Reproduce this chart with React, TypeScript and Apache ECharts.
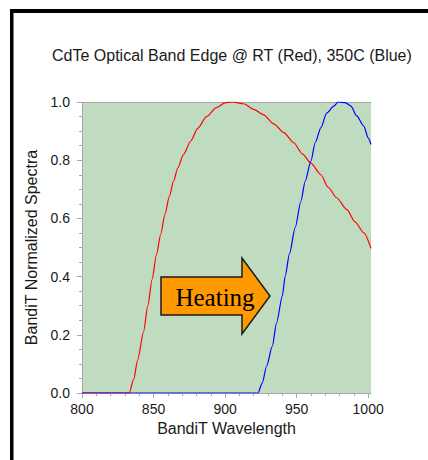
import React, { useEffect, useRef } from "react";
import * as echarts from "echarts";

const titleText = "CdTe Optical Band Edge @ RT (Red), 350C (Blue)";
const xName = "BandiT Wavelength";
const yName = "BandiT Normalized Spectra";

const xMajorTicks = [800, 850, 900, 950, 1000];
const xMinorTicks = [800, 810, 820, 830, 840, 850, 860, 870, 880, 890, 900, 910, 920, 930, 940, 950, 960, 970, 980, 990, 1000];

const redWavelength = [800, 833, 836, 839, 843, 846, 849, 852, 855, 858, 861, 864, 867, 871, 876, 881, 887, 894, 900, 905, 913, 920, 927, 934, 941, 948, 954, 960, 967, 972, 978, 985, 991, 997, 1002];
const redValues = [0, 0, 0.046, 0.115, 0.21, 0.3, 0.39, 0.475, 0.545, 0.615, 0.675, 0.728, 0.774, 0.82, 0.866, 0.91, 0.95, 0.981, 0.997, 1.0, 0.994, 0.975, 0.956, 0.925, 0.895, 0.86, 0.822, 0.79, 0.75, 0.707, 0.671, 0.631, 0.587, 0.55, 0.497];

const blueWavelength = [800, 923, 926, 929, 933, 936, 940, 942, 945, 949, 953, 956, 960, 963, 967, 971, 976, 979, 984, 988, 992, 997, 1000, 1002];
const blueValues = [0, 0, 0.034, 0.092, 0.16, 0.241, 0.333, 0.401, 0.478, 0.568, 0.659, 0.728, 0.797, 0.86, 0.912, 0.962, 0.986, 1.0, 0.998, 0.986, 0.952, 0.917, 0.877, 0.854];

const annotationText = "Heating";

export default function App() {
  const ref = useRef<HTMLDivElement>(null);
  useEffect(() => {
    if (!ref.current) return;
    const chart = echarts.init(ref.current, null, { renderer: "svg" });
    const red = redWavelength.map((w, i) => [w, redValues[i]]);
    const blue = blueWavelength.map((w, i) => [w, blueValues[i]]);
    const font = "'Liberation Sans', Arial, sans-serif";
    const textColor = "#1a1a1a";
    const axisGray = "#a8a8a8";
    chart.setOption({
      animation: false,
      backgroundColor: "#ffffff",
      title: {
        text: titleText,
        left: 47,
        top: 42,
        textStyle: { fontFamily: font, fontSize: 16, fontWeight: "normal", color: textColor },
      },
      grid: {
        left: 82,
        right: 57,
        top: 102,
        bottom: 67,
        show: true,
        backgroundColor: "#C0DCC0",
        borderWidth: 0,
      },
      xAxis: [
        {
          type: "value",
          min: 800,
          max: 1002,
          interval: 50,
          name: xName,
          nameLocation: "middle",
          nameGap: 23,
          nameTextStyle: { fontFamily: font, fontSize: 16, color: textColor },
          axisLine: { show: true, lineStyle: { color: axisGray, width: 1 } },
          axisTick: { show: true, customValues: xMajorTicks, length: 5, lineStyle: { color: axisGray } },
          axisLabel: {
            customValues: xMajorTicks,
            fontFamily: font,
            fontSize: 14,
            color: textColor,
            margin: 9,
            formatter: (v: number) => String(v),
          },
          splitLine: { show: false },
        },
        {
          type: "value",
          min: 800,
          max: 1002,
          interval: 10,
          position: "bottom",
          offset: 0,
          axisLine: { show: false },
          axisTick: { show: true, customValues: xMinorTicks, length: 3, lineStyle: { color: axisGray } },
          axisLabel: { show: false },
          splitLine: { show: false },
        },
        {
          type: "value",
          min: 800,
          max: 1002,
          position: "top",
          axisLine: { show: true, lineStyle: { color: axisGray, width: 1 } },
          axisTick: { show: false },
          axisLabel: { show: false },
          splitLine: { show: false },
        },
      ],
      yAxis: {
        type: "value",
        min: 0,
        max: 1,
        interval: 0.2,
        name: yName,
        nameLocation: "middle",
        nameGap: 41,
        nameTextStyle: { fontFamily: font, fontSize: 16, color: textColor },
        axisLine: { show: true, lineStyle: { color: axisGray, width: 1 } },
        axisTick: { show: true, length: 5, lineStyle: { color: axisGray } },
        minorTick: { show: true, splitNumber: 4, length: 3, lineStyle: { color: axisGray } },
        axisLabel: {
          fontFamily: font,
          fontSize: 14,
          color: textColor,
          margin: 12,
          formatter: (v: number) => v.toFixed(1),
        },
        splitLine: { show: false },
        minorSplitLine: { show: false },
      },
      series: [
        {
          type: "line",
          data: red,
          showSymbol: false,
          smooth: 0.25,
          smoothMonotone: "x",
          lineStyle: { color: "#ff0000", width: 1.2 },
          itemStyle: { color: "#ff0000" },
          z: 2,
        },
        {
          type: "line",
          data: blue,
          showSymbol: false,
          smooth: 0.25,
          smoothMonotone: "x",
          lineStyle: { color: "#0000ff", width: 1.2 },
          itemStyle: { color: "#0000ff" },
          z: 3,
        },
      ],
      graphic: [
        { type: "rect", shape: { x: 10, y: 9, width: 418, height: 4 }, style: { fill: "#000" }, z: 100 },
        { type: "rect", shape: { x: 10, y: 9, width: 3.5, height: 451 }, style: { fill: "#000" }, z: 100 },
        {
          type: "polygon",
          shape: {
            points: [
              [161, 277],
              [242, 277],
              [242, 258],
              [270, 296],
              [242, 334],
              [242, 315],
              [161, 315],
            ],
          },
          style: { fill: "#FF9900", stroke: "#1a1a1a", lineWidth: 1.5 },
          z: 100,
        },
        {
          type: "text",
          x: 215,
          y: 297,
          style: {
            text: annotationText,
            font: "25px 'Liberation Serif', 'Times New Roman', serif",
            fill: "#000",
            align: "center",
            verticalAlign: "middle",
          },
          z: 101,
        },
      ],
    });
    return () => chart.dispose();
  }, []);
  return (
    <div
      ref={ref}
      style={{ position: "fixed", left: 0, top: 0, width: 428, height: 460 }}
    />
  );
}
